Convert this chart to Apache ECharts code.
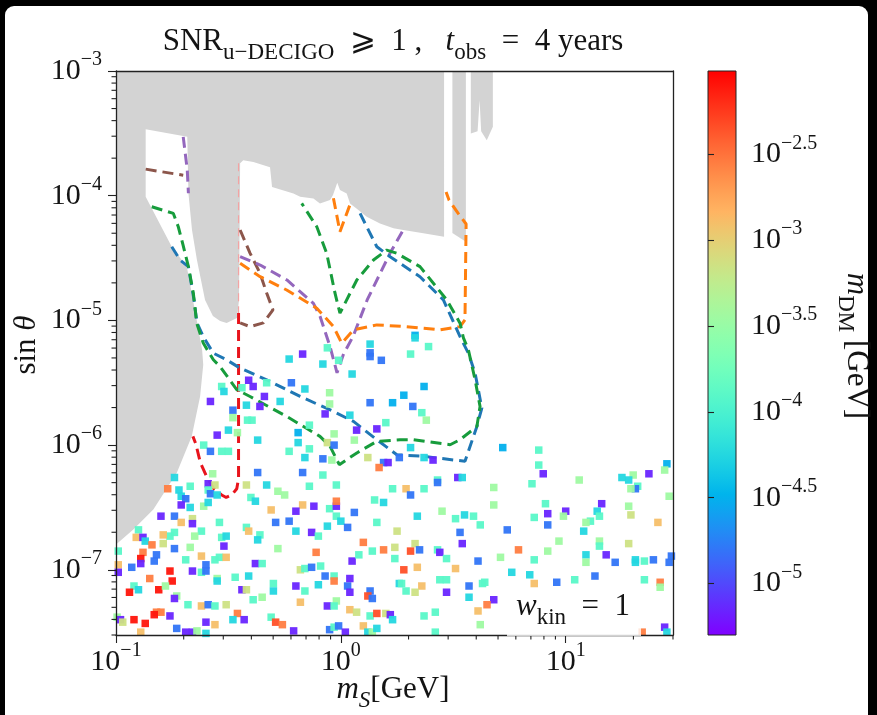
<!DOCTYPE html>
<html>
<head>
<meta charset="utf-8">
<script src="https://cdn.jsdelivr.net/npm/echarts@6/dist/echarts.min.js"></script>
<style>
  html, body { margin: 0; padding: 0; background: #000; }
  #chart { width: 877px; height: 715px; }
</style>
</head>
<body>
<div id="chart"></div>
<script>
// ---- axis ranges -------------------------------------------------------
const mSRange = [0.1, 30];          // m_S [GeV]
const sinRange = [3e-8, 1e-3];      // sin(theta)
const mDMLogRange = [-5.3, -2.015]; // log10(m_DM / GeV) covered by the colour bar

const xMajorTicks = [0.1, 1, 10];
const yMajorTicks = [1e-7, 1e-6, 1e-5, 1e-4, 1e-3];
const colorbarTicks = [-5, -4.5, -4, -3.5, -3, -2.5];

// ---- scan points: log10 m_S, log10 sin(theta), log10 m_DM -----------------
const logMS = [
  0.13,-0.17,-0.23,-0.06,-0.08,-0.01,0.13,0.13,0.18,0.05,
  -0.41,-0.33,-0.22,-0.53,-0.52,-0.44,-0.39,-0.16,-0.05,-0.34,
  -0.58,-0.27,-0.42,-0.36,-0.05,0.13,0.23,-0.48,-0.07,-0.48,
  -0.415,-0.395,0.04,0.20,-0.50,-0.46,-0.55,-0.19,-0.03,-0.14,
  0.07,0.16,0.06,-0.37,-0.19,-0.06,-0.03,-0.61,-0.58,-0.53,
  -0.50,-0.23,-0.14,-0.16,-0.08,-0.04,0.12,0.19,0.21,0.17,
  -0.74,-0.57,-0.37,-0.17,-0.08,-0.59,-0.56,-0.42,-0.33,-0.14,
  -0.02,0.23,-0.77,-0.72,-0.67,-0.59,-0.58,-0.55,-0.28,-0.25,
  -0.71,-0.69,-0.40,-0.38,0.15,0.19,-0.71,-0.67,-0.61,-0.59,
  -0.31,-0.17,-0.12,-0.05,-0.02,-0.02,-0.20,0.06,-0.80,-0.74,
  -0.66,-0.66,-0.71,-0.54,-0.29,-0.23,-0.02,0.00,0.16,-0.90,
  -0.06,0.03,0.25,-0.62,-0.42,-0.41,-0.20,-0.13,-0.10,-0.74,
  -0.76,-0.79,-0.91,-0.88,-0.87,-0.65,-0.53,-0.51,-0.36,-0.37,
  0.10,-0.84,-0.79,-0.52,-0.74,-0.67,-0.28,-0.11,0.19,0.24,
  0.14,-0.88,-0.99,-0.82,-0.89,-0.83,-0.69,-0.62,-0.60,-0.56,
  -0.54,-0.51,-0.38,-0.35,0.05,0.08,0.24,-0.93,-0.89,-0.99,
  -0.99,-0.76,-0.75,-0.66,-0.62,-0.60,-0.18,-0.16,-0.13,-0.09,
  -0.85,-0.55,-0.55,-0.47,-0.41,-0.30,-0.20,-0.10,-0.07,-0.03,
  -0.03,0.03,0.04,0.26,-0.92,-0.90,-0.94,-0.81,-0.78,-0.44,
  -0.42,-0.30,-0.16,0.04,0.13,-0.73,-0.74,-0.39,-0.35,-0.18,
  -0.02,0.12,0.14,-0.68,-0.62,-0.59,-0.56,-0.51,-0.06,-0.03,
  0.04,0.07,0.13,0.16,0.20,0.22,0.23,-0.82,-0.80,-0.76,
  -0.83,-0.46,-0.995,-0.98,-0.97,-0.92,-0.87,-0.48,-0.43,-0.31,
  -0.29,-0.26,-0.73,-0.60,-0.56,-0.21,-0.05,-0.03,-0.01,0.02,
  0.10,0.12,0.14,0.16,-0.89,-0.69,-0.66,-0.64,-0.60,
  0.33,0.33,0.39,0.31,0.37,0.28,0.32,0.36,0.38,0.31,
  0.26,0.37,0.41,0.72,0.88,0.88,0.90,0.85,0.52,0.54,
  0.43,0.43,1.06,1.25,1.30,1.37,1.45,1.44,1.28,1.32,
  1.31,1.29,0.68,0.29,0.31,0.37,0.68,0.91,0.92,1.00,
  0.99,0.86,1.16,1.28,1.29,1.14,1.15,1.11,1.09,1.08,
  0.92,1.41,1.46,0.45,0.55,0.59,0.51,0.34,0.62,0.74,
  0.53,0.54,0.97,1.15,1.28,1.15,0.33,0.31,0.35,0.43,
  0.44,0.47,0.79,0.92,0.71,0.86,0.61,1.09,1.09,1.18,
  1.22,1.31,1.31,1.35,1.39,1.46,1.47,0.34,0.28,0.51,
  0.76,0.84,0.44,0.47,1.13,1.04,0.96,0.86,0.63,0.64,
  0.27,0.36,0.57,1.35,1.42,1.42,0.29,0.33,0.47,0.57,
  0.68,0.65,0.61,0.37,0.42,0.62,0.42,1.44,1.45,1.34
];
const logSinTheta = [
  -5.19,-5.27,-5.31,-5.22,-5.35,-5.32,-5.26,-5.29,-5.32,-5.43,
  -5.48,-5.50,-5.50,-5.53,-5.57,-5.54,-5.53,-5.55,-5.58,-5.61,
  -5.65,-5.65,-5.68,-5.69,-5.67,-5.66,-5.66,-5.72,-5.75,-5.78,
  -5.80,-5.80,-5.76,-5.82,-5.88,-5.90,-5.92,-5.90,-5.91,-5.84,
  -5.88,-5.87,-5.96,-5.96,-5.98,-5.98,-6.00,-6.00,-6.05,-6.05,
  -6.05,-6.05,-6.03,-6.10,-6.11,-6.12,-6.10,-6.14,-6.14,-6.18,
  -6.26,-6.23,-6.22,-6.22,-6.24,-6.31,-6.32,-6.32,-6.32,-6.33,
  -6.32,-6.35,-6.35,-6.36,-6.33,-6.36,-6.39,-6.40,-6.37,-6.40,
  -6.41,-6.43,-6.42,-6.45,-6.44,-6.46,-6.48,-6.50,-6.49,-6.46,
  -6.52,-6.48,-6.49,-6.51,-6.49,-6.45,-6.53,-6.54,-6.57,-6.57,
  -6.59,-6.63,-6.62,-6.62,-6.62,-6.61,-6.57,-6.61,-6.62,-6.68,
  -6.65,-6.66,-6.69,-6.69,-6.66,-6.69,-6.69,-6.70,-6.73,-6.70,
  -6.73,-6.72,-6.74,-6.74,-6.77,-6.73,-6.74,-6.73,-6.72,-6.76,
  -6.78,-6.80,-6.79,-6.81,-6.83,-6.82,-6.83,-6.86,-6.84,-6.82,
  -6.85,-6.86,-6.85,-6.88,-6.91,-6.93,-6.92,-6.89,-6.96,-6.92,
  -6.90,-6.90,-6.95,-6.95,-6.93,-6.88,-6.91,-6.98,-6.95,-6.96,
  -7.02,-7.01,-7.09,-7.01,-7.02,-7.01,-7.00,-6.99,-6.98,-6.97,
  -7.07,-7.07,-7.09,-7.06,-7.05,-7.11,-7.13,-7.12,-7.05,-7.05,
  -7.09,-7.13,-7.07,-7.11,-7.13,-7.16,-7.18,-7.16,-7.13,-7.16,
  -7.16,-7.17,-7.17,-7.18,-7.17,-7.21,-7.23,-7.24,-7.22,-7.26,
  -7.25,-7.21,-7.23,-7.28,-7.29,-7.28,-7.29,-7.28,-7.29,-7.29,
  -7.32,-7.34,-7.37,-7.35,-7.35,-7.36,-7.40,-7.34,-7.34,-7.37,
  -7.36,-7.35,-7.38,-7.40,-7.42,-7.40,-7.43,-7.40,-7.40,-7.38,
  -7.42,-7.44,-7.47,-7.42,-7.44,-7.49,-7.48,-7.46,-7.45,-7.50,
  -7.45,-7.50,-7.50,-7.47,-7.50,-7.50,-7.50,-7.49,-7.51,
  -5.12,-5.14,-5.21,-5.27,-5.53,-5.60,-5.69,-5.74,-5.80,-6.02,
  -6.10,-6.10,-6.12,-6.02,-6.04,-6.16,-6.23,-6.31,-6.26,-6.26,
  -6.28,-6.30,-6.28,-6.26,-6.24,-6.23,-6.15,-6.20,-6.28,-6.33,
  -6.35,-6.35,-6.34,-6.35,-6.40,-6.35,-6.48,-6.47,-6.55,-6.53,
  -6.57,-6.58,-6.47,-6.49,-6.56,-6.53,-6.57,-6.61,-6.62,-6.69,
  -6.64,-6.62,-6.41,-6.53,-6.56,-6.57,-6.59,-6.57,-6.64,-6.68,
  -6.70,-6.79,-6.77,-6.77,-6.79,-6.81,-6.79,-6.85,-6.84,-6.84,
  -6.86,-6.91,-6.84,-6.85,-6.90,-6.92,-6.93,-6.88,-6.94,-6.88,
  -6.94,-6.92,-6.94,-6.93,-6.92,-6.94,-6.89,-6.98,-7.00,-6.99,
  -7.02,-7.04,-7.08,-7.08,-7.05,-7.08,-7.10,-7.11,-7.11,-7.10,
  -7.11,-7.13,-7.13,-7.08,-7.10,-7.14,-7.17,-7.18,-7.18,-7.22,
  -7.24,-7.28,-7.33,-7.37,-7.34,-7.44,-7.50,-7.46,-7.50,-7.50
];
const logMDM = [
  -4.25,-5.15,-4.25,-3.9,-4.25,-3.9,-4.8,-4.8,-4.8,-4.25,
  -5.15,-3.9,-4.8,-3.9,-4.25,-3.9,-5.15,-4.25,-3.45,-5.15,
  -5.15,-4.25,-4.25,-5.15,-3.45,-4.8,-4.5,-4.8,-5.15,-3.45,
  -3.9,-3.9,-4.25,-3.9,-4.25,-3.45,-5.15,-4.5,-3.45,-3.9,
  -5.15,-5.15,-3.45,-4.25,-4.25,-3.15,-4.8,-3.9,-4.8,-3.9,
  -3.9,-3.9,-3.9,-4.25,-4.8,-3.45,-3.15,-4.8,-5.15,-2.55,
  -4.25,-3.45,-4.8,-4.8,-3.9,-5.15,-3.15,-3.15,-4.25,-3.9,
  -3.9,-3.9,-2.55,-4.25,-3.9,-3.9,-4.8,-4.25,-3.45,-3.45,
  -4.25,-4.8,-3.9,-4.25,-3.9,-4.25,-5.15,-4.25,-3.45,-4.25,
  -2.9,-2.9,-5.15,-3.9,-5.15,-2.55,-5.15,-4.8,-5.15,-4.8,
  -3.15,-5.15,-2.9,-3.9,-4.8,-4.8,-3.9,-4.25,-3.9,-3.9,
  -4.25,-4.8,-3.15,-3.9,-3.9,-2.9,-4.25,-5.15,-3.9,-3.9,
  -3.9,-2.9,-2.9,-5.15,-4.25,-3.45,-3.9,-4.25,-3.9,-4.25,
  -2.55,-2.55,-3.15,-5.15,-4.8,-3.45,-3.45,-2.55,-2.55,-3.15,
  -3.9,-2.55,-3.9,-4.8,-2.1,-4.8,-3.9,-2.9,-4.8,-3.9,
  -3.9,-2.9,-5.15,-3.9,-5.15,-3.9,-3.9,-4.8,-5.15,-2.9,
  -5.15,-2.1,-2.1,-5.15,-3.9,-4.8,-3.15,-3.9,-4.8,-3.9,
  -2.55,-3.45,-4.25,-3.9,-4.25,-3.9,-5.15,-4.25,-4.8,-3.9,
  -2.55,-4.8,-5.15,-4.25,-3.9,-4.25,-2.1,-2.1,-3.45,-5.15,
  -3.15,-4.25,-3.9,-5.15,-4.8,-3.45,-5.15,-3.9,-3.45,-2.9,
  -3.45,-2.35,-4.8,-3.9,-2.9,-4.8,-3.9,-3.15,-5.15,-3.9,
  -2.9,-3.15,-3.9,-2.35,-3.15,-5.15,-4.25,-2.55,-2.55,-5.15,
  -2.1,-2.55,-3.45,-5.15,-3.15,-2.1,-2.1,-4.25,-5.15,-3.9,
  -2.35,-2.55,-4.8,-5.15,-2.9,-5.15,-4.8,-3.9,-4.8,-5.15,
  -2.9,-4.25,-3.45,-4.25,-2.9,-5.15,-5.15,-3.45,-4.25,
  -4.5,-4.25,-3.9,-3.9,-4.5,-4.5,-4.8,-3.9,-3.45,-4.25,
  -4.8,-4.25,-5.15,-4.5,-3.9,-3.9,-5.15,-3.9,-5.15,-4.25,
  -3.9,-4.8,-3.45,-4.25,-3.45,-5.15,-4.5,-3.45,-4.25,-3.9,
  -4.8,-3.45,-3.45,-2.9,-4.8,-3.9,-3.45,-3.9,-5.15,-5.15,
  -3.45,-3.9,-5.15,-3.45,-3.15,-4.25,-3.9,-3.9,-3.45,-4.25,
  -4.8,-2.9,-3.45,-3.45,-4.25,-3.9,-3.9,-4.25,-3.9,-4.8,
  -4.8,-5.15,-3.45,-3.45,-3.15,-3.9,-3.15,-2.35,-4.8,-3.9,
  -5.15,-3.9,-2.55,-3.45,-3.45,-3.9,-4.8,-4.25,-3.45,-5.15,
  -4.8,-4.25,-4.25,-3.9,-4.8,-4.8,-4.8,-2.9,-2.35,-2.9,
  -4.25,-4.25,-3.9,-3.9,-4.8,-3.9,-4.8,-2.9,-3.9,-3.9,
  -3.9,-2.9,-4.8,-3.9,-2.55,-3.45,-3.9,-3.15,-5.15,-4.25,
  -5.15,-2.55,-2.9,-3.9,-3.9,-3.45,-3.9,-5.15,-4.25,-2.55
];

// ---- excluded parameter space, vertices as [log10 m_S, log10 sin(theta)] ---
const exclMain = [
  [-1,-3],[0.459,-3],[0.459,-4.329],[0.367,-4.302],[0.278,-4.275],[0.234,-4.262],
  [0.174,-4.222],[0.115,-4.169],[0.078,-4.115],[0.041,-4.062],[0.026,-3.982],
  [-0.004,-3.955],[-0.016,-3.897],[-0.035,-3.995],[-0.048,-4.035],[-0.093,-4.062],
  [-0.122,-4.022],[-0.181,-4.009],[-0.211,-3.982],[-0.306,-3.931],[-0.315,-3.771],
  [-0.389,-3.729],[-0.434,-3.715],[-0.448,-3.739],[-0.453,-4.836],[-0.462,-4.98],
  [-0.508,-5.02],[-0.537,-5.004],[-0.569,-4.964],[-0.604,-4.836],[-0.640,-4.516],
  [-0.662,-4.275],[-0.678,-3.979],[-0.683,-3.528],[-0.868,-3.467],[-0.868,-4.009],
  [-0.752,-4.409],[-0.685,-4.569],[-0.641,-4.996],[-0.617,-5.236],[-0.612,-5.356],
  [-0.626,-5.61],[-0.663,-5.93],[-0.730,-6.223],[-0.834,-6.517],[-0.923,-6.677],[-1,-6.797]
];
const exclStrip = [[0.496,-3],[0.556,-3],[0.556,-4.369],[0.496,-4.299]];
const exclNotch = [
  [0.578,-3],[0.676,-3],[0.676,-3.448],[0.649,-3.555],[0.624,-3.483],
  [0.617,-3.235],[0.608,-3.483],[0.578,-3.501]
];

// ---- sensitivity contours, [log10 m_S, log10 sin(theta)] ----------------
const redUpper = [[-0.455,-3.74],[-0.455,-4.96]];
const redLower = [[-0.455,-4.94],[-0.455,-6.27],[-0.463,-6.35],[-0.485,-6.40],[-0.51,-6.42],
  [-0.53,-6.40],[-0.565,-6.35],[-0.595,-6.26],[-0.625,-6.14],[-0.645,-5.99],[-0.658,-5.93]];
const brownA = [[-0.868,-3.787],[-0.701,-3.836]];
const brownB = [[-0.448,-4.275],[-0.404,-4.46],[-0.36,-4.62],[-0.33,-4.78],[-0.302,-4.915],
  [-0.345,-5.02],[-0.404,-5.05],[-0.448,-5.02]];
const purpleA = [[-0.701,-3.528],[-0.683,-3.795],[-0.678,-3.98]];
const purpleB = [[-0.448,-4.489],[-0.359,-4.556],[-0.24,-4.676],[-0.122,-4.863],[-0.092,-4.97],
  [-0.048,-5.21],[-0.017,-5.42],[0.012,-5.27],[0.054,-5.13],[0.117,-4.836],[0.219,-4.46],[0.277,-4.275]];
const greenCurve = [
  [-0.841,-4.089],[-0.745,-4.142],[-0.723,-4.249],[-0.702,-4.395],[-0.678,-4.569],[-0.656,-4.782],
  [-0.641,-5.022],[-0.612,-5.182],[-0.567,-5.316],[-0.537,-5.37],[-0.463,-5.556],[-0.404,-5.61],
  [-0.241,-5.77],[-0.093,-5.93],[-0.048,-6.01],[-0.007,-6.157],[0.071,-6.063],[0.160,-5.97],
  [0.263,-5.957],[0.323,-5.957],[0.486,-5.997],[0.530,-5.957],[0.605,-5.85],[0.619,-5.69],
  [0.597,-5.476],[0.567,-5.236],[0.545,-5.14],[0.530,-5.022],[0.471,-4.836],[0.352,-4.569],
  [0.249,-4.462],[0.204,-4.436],[0.145,-4.516],[0.071,-4.676],[-0.004,-4.942],[-0.026,-4.782],
  [-0.063,-4.462],[-0.107,-4.249],[-0.174,-4.062]
];
const blueCurve = [
  [-0.752,-4.409],[-0.715,-4.516],[-0.678,-4.569],[-0.653,-4.836],[-0.640,-5.02],[-0.612,-5.13],
  [-0.567,-5.263],[-0.508,-5.316],[-0.448,-5.383],[-0.330,-5.476],[-0.181,-5.61],[-0.033,-5.73],
  [0.056,-5.81],[0.160,-5.957],[0.219,-6.037],[0.249,-6.077],[0.367,-6.09],[0.552,-6.13],
  [0.605,-5.85],[0.627,-5.703],[0.597,-5.423],[0.567,-5.263],[0.530,-5.13],[0.456,-4.836],
  [0.352,-4.65],[0.219,-4.489],[0.160,-4.409],[0.115,-4.249],[0.078,-4.115]
];
const orangeA = [[-0.033,-4.02],[-0.004,-4.289],[0.041,-4.07]];
const orangeB = [
  [-0.448,-4.542],[-0.359,-4.649],[-0.241,-4.756],[-0.107,-4.902],[-0.033,-5.049],[0.004,-5.183],
  [0.056,-5.076],[0.160,-5.036],[0.293,-5.05],[0.441,-5.076],[0.530,-5.05],[0.552,-4.996],
  [0.557,-4.227],[0.521,-4.14],[0.481,-4.035],[0.468,-3.971]
];

// ---- helpers ---------------------------------------------------------------
const SERIF = '"Liberation Serif", "DejaVu Serif", serif';
const INK = '#141414';
const pow10 = v => Math.pow(10, v);
const toData = pts => pts.map(p => [pow10(p[0]), pow10(p[1])]);

// matplotlib-style "rainbow" colour map
function rainbowColor(t) {
  const r = Math.min(1, Math.abs(2 * t - 0.5));
  const g = Math.sin(Math.PI * t);
  const b = Math.cos(Math.PI * t / 2);
  const c = v => Math.round(Math.max(0, Math.min(1, v)) * 255);
  return 'rgb(' + c(r) + ',' + c(g) + ',' + c(b) + ')';
}
const rampStops = [];
for (let i = 0; i <= 32; i++) rampStops.push(i / 32);
const rampColors = rampStops.map(rainbowColor);

// 2..9 x 10^k positions inside [lo, hi]
function minorTicks(lo, hi) {
  const out = [];
  for (let e = -9; e <= 2; e++) {
    for (let k = 2; k <= 9; k++) {
      const v = Number((k * Math.pow(10, e)).toPrecision(3));
      if (v >= lo * 0.999 && v <= hi * 1.001) out.push(v);
    }
  }
  return out;
}
const xMinorTicks = minorTicks(mSRange[0], mSRange[1]);
const yMinorTicks = minorTicks(sinRange[0], sinRange[1]);

const expText = e => (e < 0 ? '\u2212' + String(-e) : String(e));
const powerLabel = v => '{b|10}{s|' + expText(Math.round(Math.log10(v))) + '}';
const labelRich = {
  b: { fontFamily: SERIF, fontSize: 30, lineHeight: 42, color: INK, verticalAlign: 'middle' },
  s: { fontFamily: SERIF, fontSize: 20, lineHeight: 20, color: INK, verticalAlign: 'top' }
};

const axisLineStyle = { color: '#222', width: 1.3 };
const tickStyle = { color: '#222', width: 1.1 };
const DASH = [11, 6];

function curve(pts, color, width, dash) {
  return {
    type: 'line', xAxisIndex: 0, yAxisIndex: 0, data: toData(pts),
    symbol: 'none', silent: true, z: 3, clip: true,
    lineStyle: { color: color, width: width, type: dash, cap: 'butt' }
  };
}

// short minor tick marks hanging off the bottom and left spines
function minorTickSeries(values, onX) {
  return {
    type: 'custom', xAxisIndex: 0, yAxisIndex: 0, silent: true, z: 10, clip: false,
    data: values.map(v => (onX ? [v, sinRange[0]] : [mSRange[0], v])),
    encode: { x: 0, y: 1 },
    renderItem: function (params, api) {
      const p = api.coord([api.value(0), api.value(1)]);
      const shape = onX
        ? { x1: p[0], y1: p[1], x2: p[0], y2: p[1] + 4.5 }
        : { x1: p[0] - 4.5, y1: p[1], x2: p[0], y2: p[1] };
      return { type: 'line', shape: shape, style: { stroke: '#222', lineWidth: 1.1 } };
    }
  };
}

const scatterData = logMS.map((lx, i) => [pow10(lx), pow10(logSinTheta[i]), logMDM[i]]);
const exclusionShapes = [exclMain, exclStrip, exclNotch];

const series = [
  {
    type: 'custom', xAxisIndex: 0, yAxisIndex: 0, silent: true, z: 1,
    data: exclusionShapes.map((s, i) => [pow10(s[0][0]), pow10(s[0][1]), i]),
    encode: { x: 0, y: 1 },
    renderItem: function (params, api) {
      const shape = exclusionShapes[api.value(2)];
      return {
        type: 'polygon',
        shape: { points: shape.map(p => api.coord([pow10(p[0]), pow10(p[1])])) },
        style: { fill: '#d3d3d3' }
      };
    }
  },
  curve(redUpper, '#f3a3a3', 1.2, [8, 5]),
  curve(redLower, '#e8141c', 3.0, DASH),
  curve(brownA, '#8c564b', 3.0, DASH),
  curve(brownB, '#8c564b', 3.0, DASH),
  curve(purpleA, '#9467bd', 3.0, DASH),
  curve(purpleB, '#9467bd', 3.0, DASH),
  curve(orangeA, '#ff7f0e', 3.0, DASH),
  curve(orangeB, '#ff7f0e', 3.0, DASH),
  curve(blueCurve, '#1f77b4', 3.0, DASH),
  curve(greenCurve, '#179c3c', 3.0, DASH),
  {
    type: 'scatter', xAxisIndex: 0, yAxisIndex: 0, silent: true, z: 5,
    data: scatterData, symbol: 'rect', symbolSize: 7.5,
    itemStyle: { opacity: 0.95 }
  },
  minorTickSeries(xMinorTicks, true),
  minorTickSeries(yMinorTicks, false),
  {
    // colour bar body
    type: 'custom', xAxisIndex: 2, yAxisIndex: 2, silent: true, z: 2,
    data: [[0, mDMLogRange[0], mDMLogRange[1]]],
    encode: { x: 0, y: [1, 2] },
    renderItem: function (params, api) {
      const p0 = api.coord([0, api.value(1)]);
      const p1 = api.coord([1, api.value(2)]);
      return {
        type: 'rect',
        shape: { x: p0[0], y: p1[1], width: p1[0] - p0[0], height: p0[1] - p1[1] },
        style: {
          fill: new echarts.graphic.LinearGradient(0, 1, 0, 0,
            rampStops.map((t, i) => ({ offset: t, color: rampColors[i] }))),
          stroke: '#222', lineWidth: 1
        }
      };
    }
  }
];
const scatterIndex = series.findIndex(s => s.type === 'scatter');

const textRich = {
  a: { fontFamily: SERIF, fontSize: 31, lineHeight: 45, fill: INK },
  it: { fontFamily: SERIF, fontStyle: 'italic', fontSize: 31, lineHeight: 45, fill: INK },
  sub: { fontFamily: SERIF, fontSize: 23, lineHeight: 23, verticalAlign: 'bottom', fill: INK },
  isub: { fontFamily: SERIF, fontStyle: 'italic', fontSize: 23, lineHeight: 23, verticalAlign: 'bottom', fill: INK }
};

const option = {
  backgroundColor: '#000',
  animation: false,
  grid: [
    { left: 116, top: 71, width: 557, height: 564, outerBoundsMode: 'none', containLabel: false },
    { left: 708, top: 71, width: 28, height: 564, outerBoundsMode: 'none', containLabel: false }
  ],
  xAxis: [
    {
      gridIndex: 0, type: 'log', logBase: 10, min: mSRange[0], max: mSRange[1], position: 'bottom', z: 10,
      axisLine: { show: true, lineStyle: axisLineStyle },
      axisTick: { show: true, customValues: xMajorTicks, length: 8, lineStyle: tickStyle },
      axisLabel: { show: true, customValues: xMajorTicks, formatter: powerLabel, rich: labelRich, margin: 6 },
      splitLine: { show: false }, minorTick: { show: false }
    },
    {
      gridIndex: 0, type: 'log', logBase: 10, min: mSRange[0], max: mSRange[1], position: 'top', z: 10,
      axisLine: { show: true, lineStyle: axisLineStyle },
      axisTick: { show: false }, axisLabel: { show: false }, splitLine: { show: false }
    },
    { gridIndex: 1, type: 'value', min: 0, max: 1, show: false }
  ],
  yAxis: [
    {
      gridIndex: 0, type: 'log', logBase: 10, min: sinRange[0], max: sinRange[1], position: 'left', z: 10,
      axisLine: { show: true, lineStyle: axisLineStyle },
      axisTick: { show: true, customValues: yMajorTicks, length: 8, lineStyle: tickStyle },
      axisLabel: { show: true, customValues: yMajorTicks, formatter: powerLabel, rich: labelRich, margin: 14 },
      splitLine: { show: false }
    },
    {
      gridIndex: 0, type: 'log', logBase: 10, min: sinRange[0], max: sinRange[1], position: 'right', z: 10,
      axisLine: { show: true, lineStyle: axisLineStyle },
      axisTick: { show: false }, axisLabel: { show: false }, splitLine: { show: false }
    },
    {
      gridIndex: 1, type: 'value', min: mDMLogRange[0], max: mDMLogRange[1], position: 'right', z: 10,
      axisLine: { show: false },
      axisTick: { show: true, customValues: colorbarTicks, length: 6, lineStyle: tickStyle },
      axisLabel: {
        show: true, customValues: colorbarTicks, margin: 15, rich: labelRich,
        formatter: v => '{b|10}{s|' + expText(v) + '}'
      },
      splitLine: { show: false }
    }
  ],
  visualMap: {
    type: 'continuous', show: false, seriesIndex: scatterIndex, dimension: 2,
    min: mDMLogRange[0], max: mDMLogRange[1], inRange: { color: rampColors }
  },
  series: series,
  graphic: [
    { type: 'rect', z: -10, silent: true, shape: { x: 5, y: 6, width: 863, height: 712, r: [9, 9, 0, 0] }, style: { fill: '#ffffff' } },
    {
      type: 'text', z: 30, x: 393, y: 42, silent: true,
      style: {
        text: '{a|SNR}{sub|u\u2212DECIGO}{a|  \u2A7E  1 ,   }{it|t}{sub|obs}{a|  =  4 years}',
        rich: textRich, align: 'center', verticalAlign: 'middle'
      }
    },
    {
      type: 'text', z: 30, x: 393, y: 690, silent: true,
      style: { text: '{it|m}{isub|S}{a|[GeV]}', rich: textRich, align: 'center', verticalAlign: 'middle' }
    },
    {
      type: 'text', z: 30, x: 27, y: 345, rotation: Math.PI / 2, silent: true,
      style: { text: '{a|sin }{it|\u03B8}', rich: textRich, align: 'center', verticalAlign: 'middle' }
    },
    {
      type: 'text', z: 30, x: 856, y: 346, rotation: -Math.PI / 2, silent: true,
      style: { text: '{it|m}{sub|DM}{a| [GeV]}', rich: textRich, align: 'center', verticalAlign: 'middle' }
    },
    { type: 'rect', z: 25, silent: true, shape: { x: 507, y: 588, width: 134, height: 48 }, style: { fill: 'rgba(255,255,255,0.8)' } },
    {
      type: 'text', z: 30, x: 516, y: 607, silent: true,
      style: { text: '{it|w}{sub|kin}{a|  =  1}', rich: textRich, align: 'left', verticalAlign: 'middle' }
    }
  ]
};

const chart = echarts.init(document.getElementById('chart'), null, { renderer: 'canvas' });
chart.setOption(option);
</script>
</body>
</html>
